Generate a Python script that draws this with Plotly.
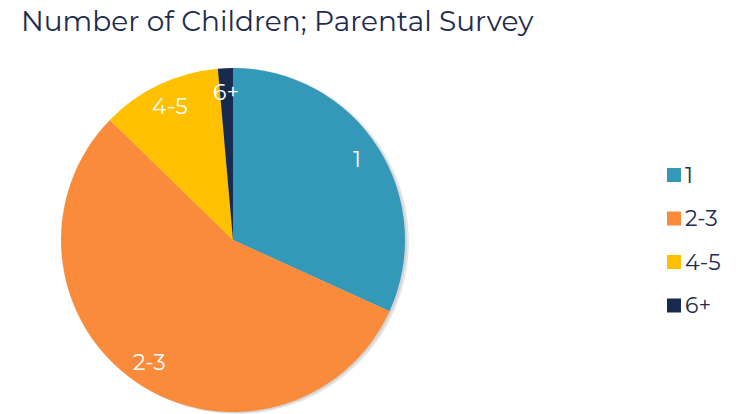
import math
import plotly.graph_objects as go

# Survey answers: how many children parents have
categories = ["1", "2-3", "4-5", "6+"]
shares = [31.8, 55.5, 11.3, 1.4]
colors = ["#3498b8", "#f98b3a", "#ffc000", "#172b50"]

title_text = "Number of Children; Parental Survey"
ink = "#1e2d4f"
font_family = "Montserrat, 'Open Sans', sans-serif"

W, H = 745, 414
cx, cy, R = 233, 240, 172  # pie centre and radius in pixels


def dom(cx_, cy_, r_):
    y0 = max(0.0, (H - cy_ - r_) / H)
    y1 = min(1.0, (H - cy_ + r_) / H)
    return dict(x=[(cx_ - r_) / W, (cx_ + r_) / W], y=[y0, y1])


fig = go.Figure()

# soft drop shadow under the pie
for dx, dy, dr, alpha in [(4, 2, 0, 0.04), (3, 1, 1, 0.06), (2, 1, 0, 0.08)]:
    fig.add_trace(go.Pie(
        values=[1], domain=dom(cx + dx, cy + dy, R + dr),
        marker=dict(colors=[f"rgba(0,0,0,{alpha})"], line=dict(width=0)),
        textinfo="none", hoverinfo="skip", showlegend=False, sort=False,
    ))

fig.add_trace(go.Pie(
    labels=categories, values=shares, domain=dom(cx, cy, R),
    marker=dict(colors=colors, line=dict(width=0)),
    sort=False, direction="clockwise", rotation=0,
    textinfo="none", showlegend=False,
))

# slice labels placed along each slice's mid-angle
total = sum(shares)
start = 0.0
annotations = []
for lab, v in zip(categories, shares):
    mid = (start + v / 2) / total * 2 * math.pi
    start += v
    rr = 0.86 * R
    px = cx + rr * math.sin(mid)
    py = cy - rr * math.cos(mid)
    annotations.append(dict(
        x=px / W, y=1 - py / H, xref="paper", yref="paper",
        text=lab, showarrow=False,
        font=dict(family=font_family, size=22, color="white"),
        xanchor="center", yanchor="middle",
    ))

# legend: coloured squares with category names
shapes = []
for i, (lab, col) in enumerate(zip(categories, colors)):
    yc = 175 + i * 43.5
    shapes.append(dict(
        type="rect", xref="paper", yref="paper",
        x0=667 / W, x1=681 / W, y0=1 - (yc + 7) / H, y1=1 - (yc - 7) / H,
        fillcolor=col, line=dict(width=0),
    ))
    annotations.append(dict(
        x=683 / W, y=1 - yc / H, xref="paper", yref="paper",
        text=lab, showarrow=False, xanchor="left", yanchor="middle",
        font=dict(family=font_family, size=22, color=ink),
    ))

fig.update_layout(
    width=W, height=H,
    margin=dict(l=0, r=0, t=0, b=0),
    paper_bgcolor="white", plot_bgcolor="white",
    title=dict(text=title_text, x=21 / W, xanchor="left",
               y=1 - 21 / H, yanchor="middle",
               font=dict(family=font_family, size=28, color=ink)),
    shapes=shapes, annotations=annotations,
    showlegend=False,
)

fig.write_html("out.html")
